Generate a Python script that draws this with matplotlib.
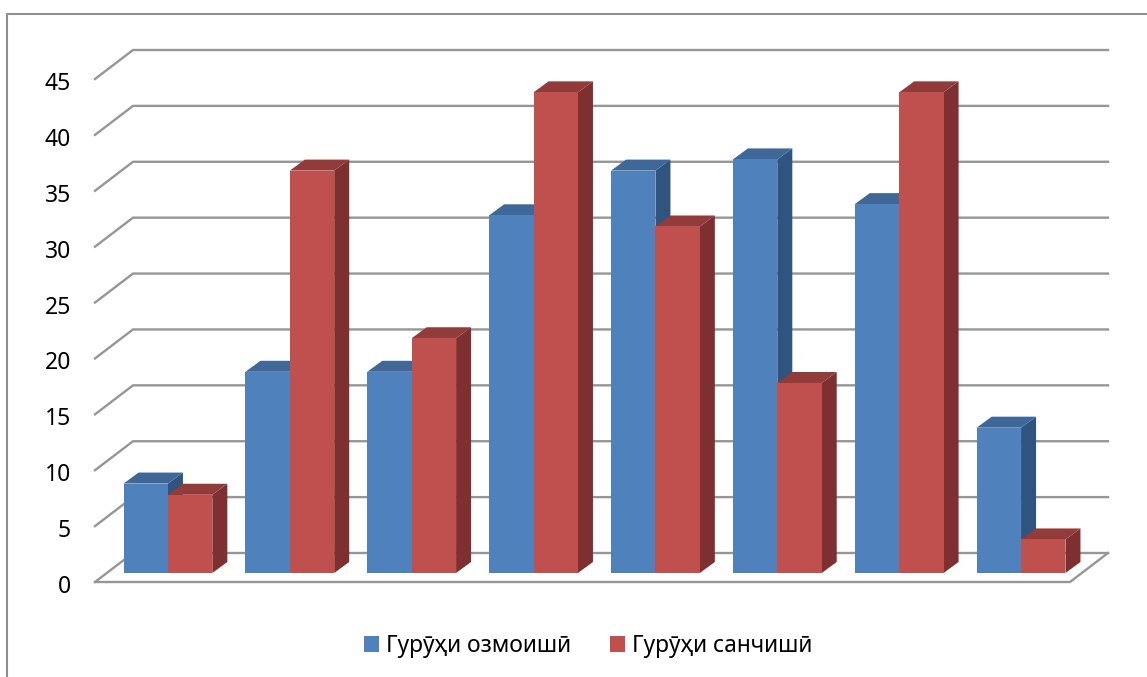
import matplotlib
matplotlib.use("Agg")
import matplotlib.pyplot as plt
from matplotlib.lines import Line2D
from matplotlib.patches import Polygon, Patch
from matplotlib.transforms import ScaledTranslation

plt.rcParams['font.family'] = ['Noto Sans', 'DejaVu Sans']

group_labels = ['1', '2', '3', '4', '5', '6', '7', '8']
series_a_name = 'Гурӯҳи озмоишӣ'
series_b_name = 'Гурӯҳи санчишӣ'
series_a = [8, 18, 18, 32, 36, 37, 33, 13]
series_b = [7, 36, 21, 43, 31, 17, 43, 3]
y_ticks = [0, 5, 10, 15, 20, 25, 30, 35, 40, 45]

W, H = 1147, 677
L, R, B, T = 95, 1070, 582, 79
fig = plt.figure(figsize=(W / 100, H / 100), dpi=100, facecolor='white')
ax = fig.add_axes([L / W, 1 - B / H, (R - L) / W, (B - T) / H])
n = len(series_a)
ax.set_xlim(0, n)
ax.set_ylim(0, 45)
ax.patch.set_visible(False)
for s in ax.spines.values():
    s.set_visible(False)

ux = (R - L) / n      # px per category
uy = (B - T) / 45     # px per value unit
wall_dx, wall_dy = 38 / ux, 29 / uy
bar_x0, bar_y0 = 12 / ux, 9 / uy
depth_x, depth_y = 15 / ux, 11 / uy
bar_w = 44.4 / ux

GRID = '#969696'
GRID_LW = 1.7
for v in y_ticks:
    ax.add_line(Line2D([0, wall_dx, n + wall_dx], [v, v + wall_dy, v + wall_dy],
                       color=GRID, lw=GRID_LW, clip_on=False, zorder=1,
                       solid_joinstyle='miter'))
ax.add_line(Line2D([0, n, n + wall_dx], [0, 0, wall_dy],
                   color=GRID, lw=GRID_LW, clip_on=False, zorder=1))


def box(x, v, front, top, side, z):
    y0 = bar_y0
    y1 = bar_y0 + v
    x1 = x + bar_w
    ax.add_patch(Polygon([(x1, y0), (x1 + depth_x, y0 + depth_y),
                          (x1 + depth_x, y1 + depth_y), (x1, y1)],
                         fc=side, ec='none', clip_on=False, zorder=z))
    ax.add_patch(Polygon([(x, y1), (x1, y1), (x1 + depth_x, y1 + depth_y),
                          (x + depth_x, y1 + depth_y)],
                         fc=top, ec='none', clip_on=False, zorder=z))
    ax.add_patch(Polygon([(x, y0), (x1, y0), (x1, y1), (x, y1)],
                         fc=front, ec='none', clip_on=False, zorder=z))


BLUE = ('#4F81BD', '#3F6797', '#2F547F')
RED = ('#C0504D', '#913C3A', '#7D302F')
for i, (a, b) in enumerate(zip(series_a, series_b)):
    c = i + 0.5 + bar_x0
    box(c - bar_w, a, *BLUE, z=3 + 2 * i)
    box(c, b, *RED, z=4 + 2 * i)

ax.set_xticks([])
ax.set_yticks(y_ticks)
ax.tick_params(axis='y', length=0, pad=24 * 0.72, labelsize=16.5, labelcolor='black')
shift = ScaledTranslation(0, -2 / 100, fig.dpi_scale_trans)
for lab in ax.get_yticklabels():
    lab.set_transform(lab.get_transform() + shift)

# outer frame of the chart, cut by the picture's right and bottom edges
fig.add_artist(Line2D([7.5 / W, 7.5 / W, 1], [0, 1 - 13.5 / H, 1 - 13.5 / H],
                      transform=fig.transFigure, color='#8f8f8f', lw=1.5))

ax.legend(handles=[Patch(fc=BLUE[0], label=series_a_name),
                   Patch(fc=RED[0], label=series_b_name)],
          loc='center', bbox_to_anchor=(588.5 / W, 1 - 646 / H),
          bbox_transform=fig.transFigure, ncol=2, frameon=False,
          fontsize=16.4, handlelength=0.66, handleheight=0.66, handletextpad=0.31,
          columnspacing=1.71, borderpad=0, labelcolor='black')

fig.savefig('out.png', dpi=100, facecolor='white')
